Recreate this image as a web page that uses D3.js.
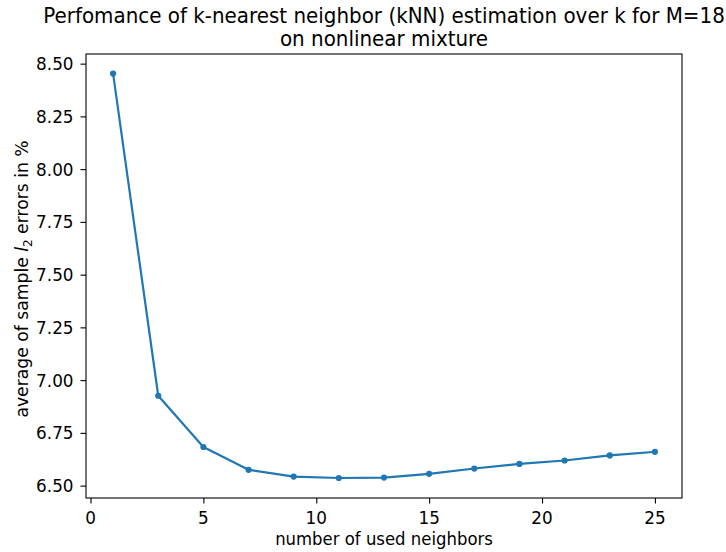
<!DOCTYPE html>
<html><head><meta charset="utf-8">
<script src="https://cdn.jsdelivr.net/npm/d3@7"></script>
<style>body{margin:0;background:#fff}svg{display:block}text{font-family:"DejaVu Sans",sans-serif;fill:#000}</style>
</head><body>
<svg id="c" width="726" height="552"></svg>
<script>
const kValues = [1,3,5,7,9,11,13,15,17,19,21,23,25];
const errValues = [8.453,6.926,6.683,6.575,6.543,6.536,6.538,6.556,6.581,6.603,6.619,6.643,6.660];
const xTicks = [0,5,10,15,20,25];
const yTicks = [6.50,6.75,7.00,7.25,7.50,7.75,8.00,8.25,8.50];
const titleLines = ["Perfomance of k-nearest neighbor (kNN) estimation over k for M=18","on nonlinear mixture"];
const xLabel = "number of used neighbors";

const L=86,R=682,T=54,B=498;
const SY=1.06;
const svg=d3.select("#c");
const x=d3.scaleLinear().domain([-0.2,26.2]).range([L,R]);
const y=d3.scaleLinear().domain([6.4413,8.5457]).range([B,T]);
const fsTick=16.8, fsLab=16.5, fsTitle=19.9;

function txt(px,py,s,fs,anchor){
  return svg.append("text").attr("transform",`translate(${px},${py}) scale(1,${SY})`)
    .attr("text-anchor",anchor||"middle").attr("font-size",fs).text(s);
}

const xa=svg.append("g").attr("transform",`translate(0,${B})`)
 .call(d3.axisBottom(x).tickValues(xTicks).tickSize(5.5).tickFormat(""));
const ya=svg.append("g").attr("transform",`translate(${L},0)`)
 .call(d3.axisLeft(y).tickValues(yTicks).tickSize(5.5).tickFormat(""));
[xa,ya].forEach(a=>{a.select(".domain").remove();a.selectAll("line").attr("stroke","#000").attr("stroke-width",1.1);a.selectAll("text").remove();});

xTicks.forEach(t=>txt(x(t),523.5,d3.format("d")(t),fsTick));
yTicks.forEach(t=>txt(73.5,y(t)+6.4,d3.format(".2f")(t),fsTick,"end"));

svg.append("rect").attr("x",L).attr("y",T).attr("width",R-L).attr("height",B-T)
 .attr("fill","none").attr("stroke","#000").attr("stroke-width",1.1);

const pts=kValues.map((k,i)=>[k,errValues[i]]);
svg.append("path").datum(pts).attr("fill","none").attr("stroke","#1f77b4").attr("stroke-width",2.2)
 .attr("stroke-linejoin","round").attr("stroke-linecap","square")
 .attr("d",d3.line().x(d=>x(d[0])).y(d=>y(d[1])));
svg.append("g").selectAll("circle").data(pts).join("circle")
 .attr("cx",d=>x(d[0])).attr("cy",d=>y(d[1])).attr("r",3.1).attr("fill","#1f77b4");

const cx=(L+R)/2;
txt(cx,23,titleLines[0],fsTitle);
txt(cx,46,titleLines[1],fsTitle);
txt(cx,545,xLabel,fsLab);

const yl=svg.append("text").attr("transform",`translate(27.5,${(T+B)/2+3}) rotate(-90)`).attr("text-anchor","middle").attr("font-size",17.2);
yl.append("tspan").text("average of sample ");
yl.append("tspan").attr("font-style","italic").text("l");
yl.append("tspan").attr("font-size",17.2*0.7).attr("dy",4).text("2");
yl.append("tspan").attr("dy",-4).text(" errors in %");
</script>
</body></html>
